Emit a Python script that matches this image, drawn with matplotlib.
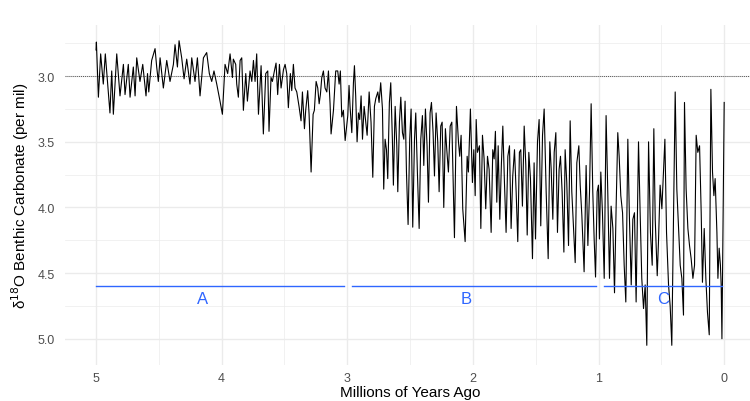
import matplotlib
matplotlib.use("Agg")
import matplotlib.pyplot as plt

plt.rcParams['font.family'] = ['Liberation Sans', 'DejaVu Sans']

# benthic d18O record (age in Ma, value in per mil)
ages = [
    5.000, 4.997, 4.981, 4.963, 4.942, 4.926, 4.889, 4.875, 4.862, 4.835,
    4.809, 4.782, 4.769, 4.743, 4.729, 4.703, 4.689, 4.676, 4.650, 4.628,
    4.602, 4.590, 4.580, 4.557, 4.530, 4.517, 4.504, 4.490, 4.464, 4.437,
    4.411, 4.384, 4.371, 4.352, 4.339, 4.318, 4.299, 4.278, 4.252, 4.238,
    4.212, 4.193, 4.172, 4.145, 4.119, 4.098, 4.079, 4.061, 4.039, 4.013,
    3.994, 3.973, 3.952, 3.933, 3.914, 3.907, 3.888, 3.880, 3.867, 3.853,
    3.840, 3.827, 3.808, 3.795, 3.774, 3.760, 3.747, 3.734, 3.721, 3.707,
    3.686, 3.668, 3.649, 3.633, 3.623, 3.607, 3.596, 3.580, 3.567, 3.554,
    3.540, 3.527, 3.508, 3.495, 3.482, 3.469, 3.453, 3.442, 3.429, 3.416,
    3.402, 3.384, 3.368, 3.357, 3.341, 3.331, 3.315, 3.304, 3.288, 3.272,
    3.262, 3.248, 3.235, 3.224, 3.214, 3.203, 3.190, 3.177, 3.163, 3.150,
    3.137, 3.129, 3.110, 3.092, 3.076, 3.065, 3.055, 3.044, 3.031, 3.017,
    2.996, 2.986, 2.978, 2.964, 2.951, 2.943, 2.933, 2.922, 2.911, 2.901,
    2.890, 2.879, 2.866, 2.853, 2.842, 2.826, 2.811, 2.797, 2.784, 2.773,
    2.757, 2.747, 2.734, 2.720, 2.710, 2.699, 2.688, 2.678, 2.665, 2.654,
    2.641, 2.633, 2.619, 2.606, 2.598, 2.585, 2.574, 2.561, 2.550, 2.540,
    2.529, 2.516, 2.503, 2.492, 2.479, 2.465, 2.455, 2.442, 2.428, 2.415,
    2.402, 2.391, 2.378, 2.365, 2.354, 2.341, 2.330, 2.317, 2.306, 2.293,
    2.280, 2.269, 2.256, 2.245, 2.232, 2.219, 2.208, 2.195, 2.181, 2.168,
    2.147, 2.131, 2.115, 2.105, 2.094, 2.081, 2.062, 2.046, 2.036, 2.020,
    2.004, 1.993, 1.982, 1.974, 1.964, 1.948, 1.937, 1.924, 1.911, 1.898,
    1.884, 1.871, 1.855, 1.842, 1.831, 1.821, 1.810, 1.799, 1.786, 1.773,
    1.762, 1.749, 1.736, 1.722, 1.709, 1.696, 1.683, 1.669, 1.656, 1.643,
    1.630, 1.619, 1.606, 1.592, 1.579, 1.568, 1.555, 1.542, 1.526, 1.513,
    1.502, 1.486, 1.473, 1.460, 1.446, 1.433, 1.417, 1.401, 1.388, 1.377,
    1.364, 1.353, 1.340, 1.327, 1.314, 1.303, 1.290, 1.276, 1.266, 1.253,
    1.239, 1.226, 1.213, 1.200, 1.186, 1.173, 1.157, 1.146, 1.133, 1.115,
    1.099, 1.085, 1.072, 1.059, 1.046, 1.035, 1.024, 1.011,
    1.001, 0.993, 0.982, 0.969, 0.955, 0.940, 0.926, 0.913, 0.900, 0.886,
    0.873, 0.860, 0.847, 0.836, 0.823, 0.809, 0.796, 0.783, 0.767, 0.754,
    0.740, 0.727, 0.714, 0.701, 0.682, 0.669, 0.656, 0.642, 0.629, 0.616,
    0.602, 0.587, 0.573, 0.560, 0.549, 0.533, 0.523, 0.510, 0.496, 0.483,
    0.472, 0.459, 0.443, 0.430, 0.417, 0.401, 0.390, 0.377, 0.364, 0.350,
    0.337, 0.324, 0.316, 0.303, 0.289, 0.276, 0.263, 0.249, 0.236, 0.223,
    0.210, 0.196, 0.183, 0.173, 0.159, 0.146, 0.133, 0.119, 0.106, 0.093,
    0.082, 0.072, 0.058, 0.050, 0.040, 0.030, 0.024, 0.018, 0.000,
]
d18o = [
    2.80, 2.74, 3.16, 2.83, 3.06, 2.83, 3.28, 2.96, 3.29, 2.83,
    3.15, 2.91, 3.14, 2.91, 3.16, 2.93, 3.15, 2.86, 3.04, 2.91,
    3.15, 2.98, 3.12, 2.88, 2.79, 2.93, 3.04, 2.86, 3.09, 2.88,
    3.04, 2.91, 2.76, 2.93, 2.73, 2.86, 3.02, 2.87, 3.06, 2.86,
    3.04, 2.86, 3.15, 2.86, 2.82, 2.98, 3.04, 2.96, 3.06, 3.19,
    3.29, 2.91, 2.98, 2.83, 3.01, 2.87, 2.91, 3.06, 3.16, 2.88,
    2.86, 3.26, 2.98, 3.19, 2.96, 3.04, 2.88, 3.04, 2.83, 3.29,
    2.92, 3.44, 2.98, 2.96, 3.42, 3.01, 3.04, 2.96, 2.90, 3.14,
    2.91, 3.09, 2.95, 2.91, 2.98, 3.24, 2.98, 3.11, 2.91, 3.09,
    3.12, 3.23, 3.34, 3.12, 3.40, 3.26, 3.11, 3.29, 3.73, 3.29,
    3.26, 3.04, 3.09, 3.21, 3.14, 3.01, 2.96, 3.09, 3.12, 2.96,
    3.21, 3.44, 3.26, 2.96, 2.96, 3.06, 2.96, 3.31, 3.26, 3.49,
    3.30, 3.07, 3.23, 3.43, 3.05, 2.92, 3.15, 3.50, 3.28, 3.33,
    3.15, 3.48, 3.23, 3.35, 3.45, 3.12, 3.35, 3.77, 3.23, 3.17,
    3.12, 3.20, 3.05, 3.25, 3.86, 3.48, 3.56, 3.78, 3.20, 3.05,
    3.48, 3.83, 3.23, 3.53, 3.88, 3.35, 3.16, 3.43, 3.48, 3.19,
    3.73, 4.13, 3.48, 3.25, 4.15, 3.48, 3.28, 3.73, 4.16, 3.48,
    3.30, 3.68, 3.25, 3.53, 3.96, 3.28, 3.20, 3.43, 3.76, 3.28,
    3.50, 3.88, 3.38, 3.35, 4.00, 3.40, 3.56, 3.73, 3.38, 3.35,
    4.23, 3.23, 3.50, 3.61, 3.45, 4.01, 4.26, 3.61, 3.73, 3.25,
    3.81, 3.56, 3.91, 3.33, 3.58, 3.53, 4.16, 3.45, 3.63, 4.01,
    3.61, 3.71, 4.19, 3.56, 3.63, 3.42, 3.96, 3.53, 4.09, 3.66,
    3.38, 3.81, 4.19, 3.61, 3.53, 4.16, 3.76, 3.56, 3.88, 4.26,
    3.58, 3.56, 3.99, 3.38, 3.68, 4.21, 3.58, 3.78, 4.39, 3.66,
    4.24, 3.50, 3.33, 4.14, 3.45, 3.25, 3.88, 4.39, 3.50, 3.71,
    4.09, 3.58, 3.43, 4.19, 3.71, 3.61, 3.88, 4.34, 3.56, 3.81,
    4.29, 3.34, 3.88, 4.14, 4.42, 3.66, 3.53, 3.83, 4.06, 4.49,
    3.68, 4.29, 3.88, 3.21, 3.88, 4.24, 4.53, 3.88,
    3.83, 4.24, 3.73, 4.04, 4.54, 3.30, 3.91, 4.54, 3.99, 4.16,
    4.65, 3.99, 3.43, 3.61, 3.91, 4.04, 4.44, 4.72, 3.48, 4.09,
    4.59, 4.09, 4.04, 4.72, 3.50, 4.04, 4.54, 4.77, 4.59, 5.05,
    3.50, 4.19, 4.44, 3.40, 4.09, 4.52, 4.26, 3.83, 4.01, 3.73,
    3.48, 4.19, 4.59, 4.75, 5.05, 3.91, 3.12, 3.86, 4.14, 4.44,
    4.54, 4.82, 3.20, 3.86, 4.16, 4.29, 4.39, 4.54, 4.44, 3.45,
    3.58, 3.53, 4.04, 4.57, 4.16, 4.54, 4.80, 4.97, 3.10, 3.73,
    3.91, 3.78, 4.19, 4.54, 4.31, 4.44, 4.59, 5.00, 3.20,
]

# interval bars and their labels
seg_start = [5.00, 2.96, 0.96]
seg_end = [3.03, 1.02, 0.02]
seg_y = 4.6
seg_labels = ['A', 'B', 'C']
label_x = [4.15, 2.05, 0.49]
label_y = 4.69
ref_level = 3.0

W, H = 750, 402
fig = plt.figure(figsize=(W / 100, H / 100), dpi=100)
ax = fig.add_axes([64.6 / W, (H - 366) / H, (755.6 - 64.6) / W, 340 / H])

ax.axhline(ref_level, color='#555555', ls=(0, (1, 1)), lw=0.7, zorder=2)
ax.plot(ages, d18o, color='black', lw=0.8, zorder=3)

blue = '#2F66FF'
for s, e, lab, lx in zip(seg_start, seg_end, seg_labels, label_x):
    ax.plot([s, e], [seg_y, seg_y], color=blue, lw=1.0, zorder=4)
    ax.text(lx, label_y, lab, color=blue, fontsize=12, ha='center', va='center', zorder=4)

ax.set_xlim(5.25, -0.25)
ax.set_ylim(5.2, 2.61)
ax.set_xticks([5, 4, 3, 2, 1, 0])
ax.set_xticklabels(['5', '4', '3', '2', '1', '0'])
ax.set_xticks([4.5, 3.5, 2.5, 1.5, 0.5], minor=True)
ax.set_yticks([3.0, 3.5, 4.0, 4.5, 5.0])
ax.set_yticklabels(['3.0', '3.5', '4.0', '4.5', '5.0'])
ax.set_yticks([2.75, 3.25, 3.75, 4.25, 4.75], minor=True)

ax.grid(which='major', color='#EBEBEB', lw=1.0)
ax.grid(which='minor', color='#EBEBEB', lw=0.5)
ax.set_axisbelow(True)
for sp in ax.spines.values():
    sp.set_visible(False)
ax.tick_params(which='both', length=0)
ax.tick_params(axis='y', labelsize=9, labelcolor='#4D4D4D', pad=7)
ax.tick_params(axis='x', labelsize=9, labelcolor='#4D4D4D', pad=5)

ax.set_xlabel('Millions of Years Ago', fontsize=11, labelpad=1)
ax.set_ylabel('δ$^{18}$O Benthic Carbonate (per mil)', fontsize=11, labelpad=5)

fig.savefig('out.png', dpi=100)
